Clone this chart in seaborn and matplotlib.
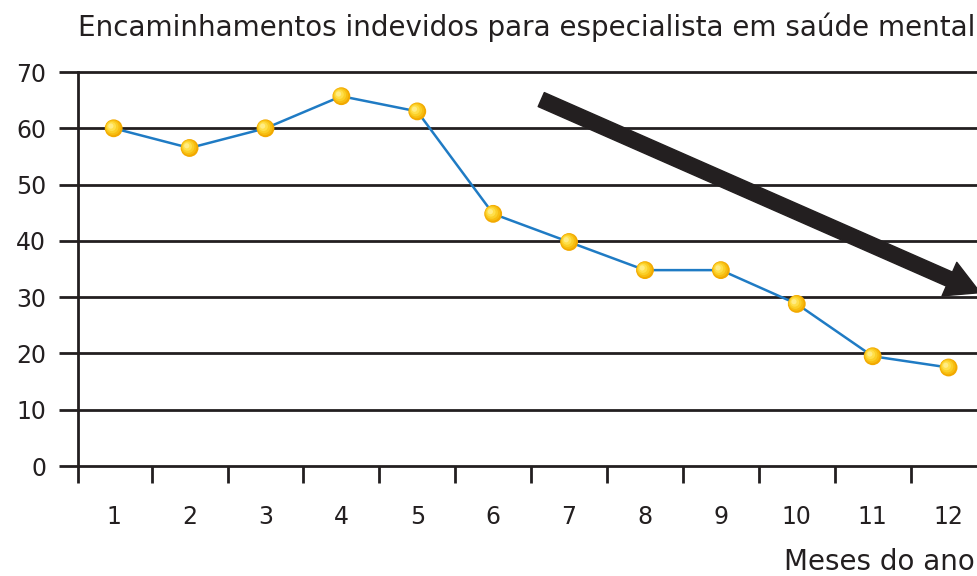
import matplotlib
matplotlib.use("Agg")
import matplotlib.pyplot as plt
import seaborn as sns
import pandas as pd
from matplotlib.patches import FancyArrowPatch
from matplotlib.transforms import ScaledTranslation

# Monthly counts of inappropriate referrals
meses = [1, 2, 3, 4, 5, 6, 7, 8, 9, 10, 11, 12]
encaminhamentos = [60, 56.5, 60, 65.7, 63, 44.8, 39.8, 34.8, 34.8, 28.8, 19.5, 17.5]
y_ticks = [0, 10, 20, 30, 40, 50, 60, 70]

titulo = "Encaminhamentos indevidos para especialista em saúde mental"
eixo_x = "Meses do ano"

INK = "#231f20"
BLUE = "#1f7bc4"

sns.set_theme(style="white")
plt.rcParams["font.family"] = ["DejaVu Sans"]

df = pd.DataFrame({"mes": meses, "valor": encaminhamentos})

fig = plt.figure(figsize=(9.77, 5.76), dpi=100)
L = 0.53
ax = fig.add_axes([78 / 977, 110 / 576, (12.53 - L) * 75.9 / 977, 394 / 576])

sns.lineplot(data=df, x="mes", y="valor", ax=ax, color=BLUE, linewidth=1.8, zorder=3)

# stacked, slightly offset discs give the markers a glossy shading
layers = [
    (165, "#f2a900", 0.0, 0.0),
    (120, "#f7bd10", -0.7, 0.7),
    (80, "#fbcf28", -1.4, 1.2),
    (42, "#ffdf4a", -2.1, 1.7),
    (14, "#ffec85", -2.8, 2.2),
]
for i, (size, col, dx, dy) in enumerate(layers):
    sns.scatterplot(data=df, x="mes", y="valor", ax=ax, s=size, color=col,
                    edgecolor="none", linewidth=0, zorder=4 + i * 0.1)
    coll = ax.collections[-1]
    coll.set_offset_transform(ax.transData + ScaledTranslation(dx / 100, dy / 100, fig.dpi_scale_trans))

ax.set_xlim(L, 12.53)
ax.set_ylim(0, 70)
ax.set_yticks(y_ticks)
ax.set_yticklabels([str(v) for v in y_ticks])
ax.set_xticks(meses)
ax.set_xticklabels([str(m) for m in meses])
ax.set_xticks([L] + [m + 0.5 for m in meses[:-1]], minor=True)

for s in ["top", "right", "bottom"]:
    ax.spines[s].set_visible(False)
ax.spines["left"].set_color(INK)
ax.spines["left"].set_linewidth(2)

ax.yaxis.grid(True, color=INK, linewidth=2)
for gl in ax.get_ygridlines():
    gl.set_clip_on(False)
ax.xaxis.grid(False)

ax.tick_params(axis="y", which="major", length=14, width=2, color=INK,
               labelsize=17, labelcolor=INK, pad=9, left=True)
ax.tick_params(axis="x", which="major", length=0, labelsize=17, labelcolor=INK, pad=28)
ax.tick_params(axis="x", which="minor", length=12, width=2, color=INK, bottom=True)

ax.set_xlabel("")
ax.set_ylabel("")

fig.text(78 / 977, 1 - 27 / 576, titulo, fontsize=20, color=INK, va="center", ha="left")
fig.text(784 / 977, 1 - 562 / 576, eixo_x, fontsize=20, color=INK, va="center", ha="left")

arrow = FancyArrowPatch((6.6, 65.3), (12.45, 30.6),
                        arrowstyle="simple,head_length=1.1,head_width=1.2,tail_width=0.5",
                        mutation_scale=22, color=INK, zorder=6, clip_on=False)
ax.add_patch(arrow)

fig.savefig("out.png", dpi=100)
